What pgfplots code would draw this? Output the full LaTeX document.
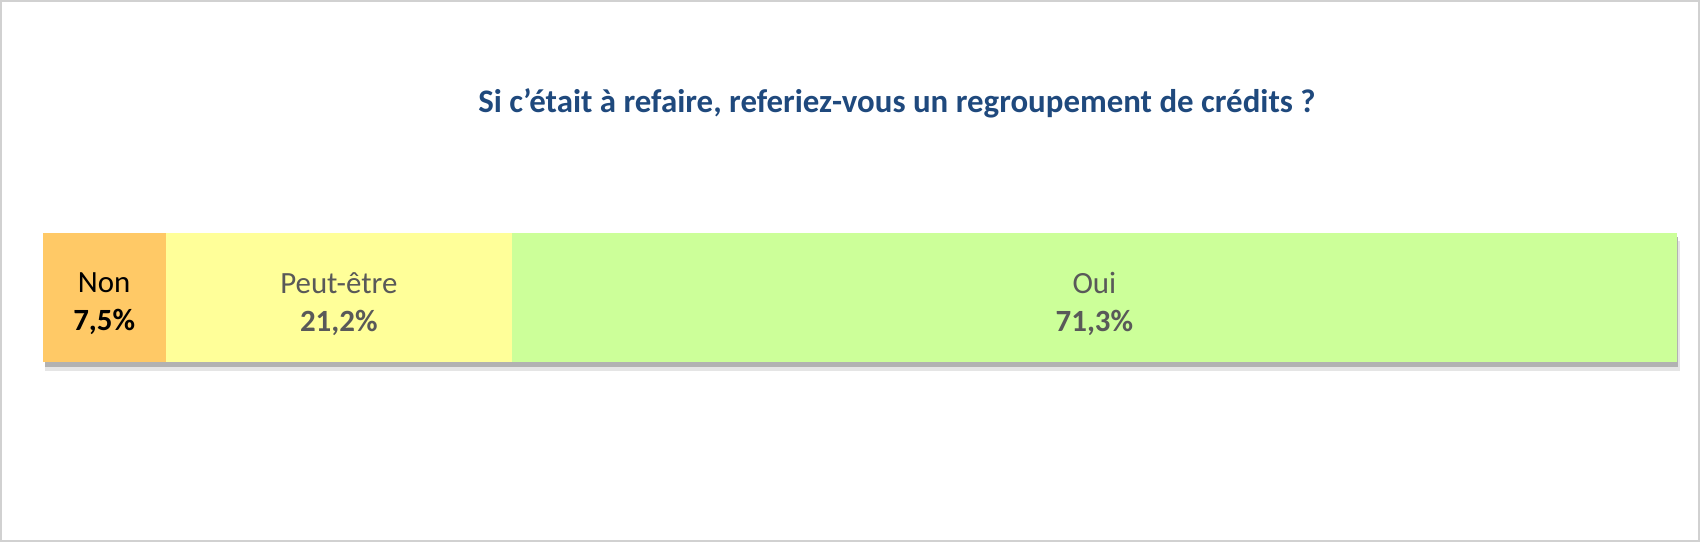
\documentclass[border=0pt]{standalone}
\usepackage{pgfplots}
\pgfplotsset{compat=1.18}
\usepackage{fontspec}
\setmainfont{Carlito}
\definecolor{cnon}{HTML}{FFC966}
\definecolor{cpeut}{HTML}{FFFF99}
\definecolor{coui}{HTML}{CCFF99}
\definecolor{ctitle}{HTML}{1F497D}
\definecolor{ctext}{HTML}{595959}
\begin{document}
\begin{tikzpicture}
\path[use as bounding box] (0bp,0bp) rectangle (850bp,271bp);
\draw[black!18, line width=1bp] (0.5bp,0.5bp) rectangle (849.5bp,270.5bp);
\node[font=\fontsize{16.5}{20}\selectfont\bfseries, text=ctitle] at (448.5bp,219.5bp) {Si c’était à refaire, referiez-vous un regroupement de crédits ?};
% drop shadow behind the bar
\fill[black!10] (22.5bp,85.5bp) rectangle (840bp,150.5bp);
\fill[black!30] (22.5bp,87.5bp) rectangle (839.2bp,152.5bp);
\begin{axis}[at={(21.5bp,90bp)}, anchor=south west, scale only axis,
  width=817bp, height=64.5bp, xmin=0, xmax=100, ymin=-0.5, ymax=0.5,
  hide axis, xbar stacked, bar width=64.5bp, clip=false]
\addplot[fill=cnon, draw=none] coordinates {(7.5,0)};
\addplot[fill=cpeut, draw=none] coordinates {(21.2,0)};
\addplot[fill=coui, draw=none] coordinates {(71.3,0)};
\end{axis}
\node[align=center, text=black, font=\fontsize{15.5}{19}\selectfont] at (52.1bp,119bp) {Non\\\textbf{7,5\%}};
\node[align=center, text=ctext, font=\fontsize{15.5}{19}\selectfont] at (169.4bp,119bp) {Peut-être\\\textbf{21,2\%}};
\node[align=center, text=ctext, font=\fontsize{15.5}{19}\selectfont] at (547.2bp,119bp) {Oui\\\textbf{71,3\%}};
\end{tikzpicture}
\end{document}
